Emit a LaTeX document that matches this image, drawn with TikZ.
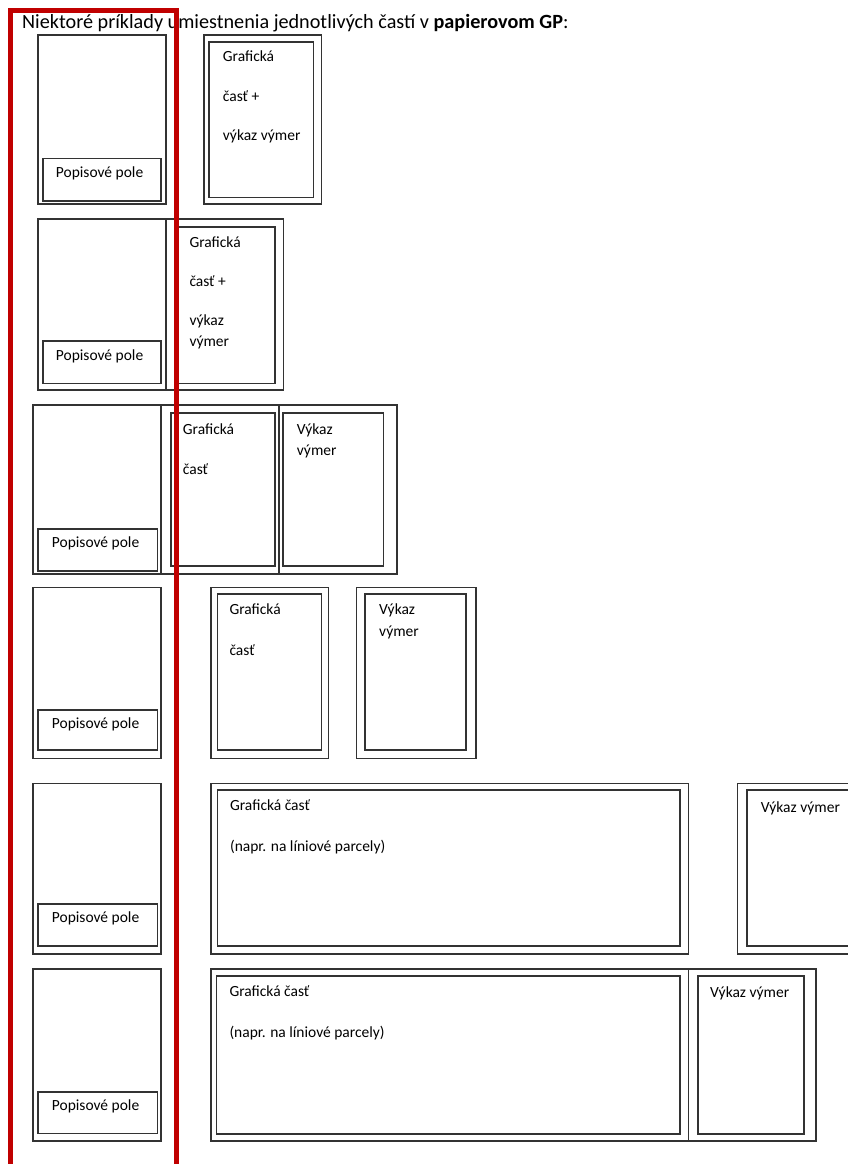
\documentclass[tikz,border=0pt]{standalone}
\usepackage{fontspec}
\setmainfont{Carlito}
\definecolor{boxline}{HTML}{333333}
\definecolor{redframe}{HTML}{C00000}
\tikzset{
  box/.style={draw=boxline, line width=1.7pt, inner sep=0pt, anchor=north west, rectangle},
  lbl/.style={inner sep=0pt, anchor=base west, font=\fontsize{15.5}{18}\selectfont, text=black},
  ttl/.style={inner sep=0pt, anchor=base west, font=\fontsize{20.2}{24}\selectfont, text=black},
  redline/.style={draw=redframe, line width=4.6pt}
}
\newcommand{\bx}[5]{\node[box, minimum width=#4pt-#2pt, minimum height=#5pt-#3pt] (#1) at (#2,#3) {};}
\begin{document}
\begin{tikzpicture}[x=1pt,y=-1pt]
\useasboundingbox (0,0) rectangle (848,1164);
\begin{scope}
\clip (0,0) rectangle (848,1164);
\fill[white] (0,0) rectangle (848,1164);
% title
\node[ttl] (title) at (22,29) {Niektoré príklady umiestnenia jednotlivých častí v \textbf{papierovom GP}:};
% row 1
\bx{r1l}{37.3}{34.3}{165}{203.3}
\bx{r1pp}{42.3}{157.7}{160.3}{200}
\bx{r1go}{203.3}{34.3}{320.7}{203.3}
\bx{r1gi}{208.3}{41}{312.7}{196.7}
\node[lbl] (t1a) at (222.7,61.5) {Grafická};
\node[lbl] (t1b) at (222.7,101) {časť +};
\node[lbl] (t1c) at (222.7,140.7) {výkaz výmer};
\node[lbl] (t1p) at (55.7,177) {Popisové pole};
% row 2
\bx{r2l}{37.3}{218.3}{165}{389.3}
\bx{r2r}{165}{218.3}{282.7}{389.3}
\bx{r2pp}{42.3}{340}{160}{382.7}
\bx{r2gi}{174}{226}{274}{382.7}
\node[lbl] (t2a) at (189.3,247.7) {Grafická};
\node[lbl] (t2b) at (189.3,286.7) {časť +};
\node[lbl] (t2c) at (189.3,325) {výkaz};
\node[lbl] (t2d) at (189.3,346) {výmer};
\node[lbl] (t2p) at (55.7,360) {Popisové pole};
% row 3
\bx{r3l}{32.3}{404.3}{160}{573.3}
\bx{r3m}{160}{404.3}{278.3}{573.3}
\bx{r3r}{278.3}{404.3}{396}{573.3}
\bx{r3pp}{37.3}{528.3}{156.7}{570}
\bx{r3gi}{170}{412.3}{274}{565}
\bx{r3vi}{282.3}{412.3}{382.7}{565}
\node[lbl] (t3a) at (182.7,434) {Grafická};
\node[lbl] (t3b) at (182.7,474) {časť};
\node[lbl] (t3c) at (296.7,434) {Výkaz};
\node[lbl] (t3d) at (296.7,455.7) {výmer};
\node[lbl] (t3p) at (51.7,547.7) {Popisové pole};
% row 4
\bx{r4l}{32.3}{586.7}{160.3}{757.7}
\bx{r4pp}{37.3}{709}{156.7}{749.3}
\bx{r4go}{210}{586.7}{327.7}{757.7}
\bx{r4gi}{216.7}{593.3}{320.7}{749.3}
\bx{r4vo}{355.7}{586.7}{475}{757.7}
\bx{r4vi}{364}{593.3}{465}{749.3}
\node[lbl] (t4a) at (229.3,614.3) {Grafická};
\node[lbl] (t4b) at (229.3,655) {časť};
\node[lbl] (t4c) at (379,614.3) {Výkaz};
\node[lbl] (t4d) at (379,636) {výmer};
\node[lbl] (t4p) at (51.7,728.3) {Popisové pole};
% row 5
\bx{r5l}{32.3}{782.7}{160}{953.3}
\bx{r5pp}{37.3}{903.3}{156.7}{945}
\bx{r5go}{210}{782.7}{687.7}{953.3}
\bx{r5gi}{216.7}{789.3}{679.3}{945}
\bx{r5vo}{736.7}{782.7}{870}{953.3}
\bx{r5vi}{746}{789.3}{860}{945}
\node[lbl] (t5a) at (229.9,810.4) {Grafická časť};
\node[lbl] (t5b) at (229.9,851.7) {(napr. na líniové parcely)};
\node[lbl] (t5c) at (760.7,812.7) {Výkaz výmer};
\node[lbl] (t5p) at (51.7,922.7) {Popisové pole};
% row 6
\bx{r6l}{32.3}{968.3}{160}{1140}
\bx{r6pp}{37.3}{1091}{156.7}{1132.7}
\bx{r6go}{210}{968.3}{687.7}{1140}
\bx{r6vo}{687.7}{968.3}{815.3}{1140}
\bx{r6gi}{215.7}{975}{679.3}{1133.3}
\bx{r6vi}{697.3}{975}{803.3}{1133.3}
\node[lbl] (t6a) at (229.3,996) {Grafická časť};
\node[lbl] (t6b) at (229.3,1037.3) {(napr. na líniové parcely)};
\node[lbl] (t6c) at (710,997.7) {Výkaz výmer};
\node[lbl] (t6p) at (51.7,1110) {Popisové pole};
% red frame
\coordinate (rbl) at (10.3,1175);
\coordinate (rtl) at (10.3,10.3);
\coordinate (rtr) at (176.5,10.3);
\coordinate (rbr) at (176.5,1175);
\draw[redline] (rbl) -- (rtl) -- (rtr) -- (rbr);
\end{scope}
\end{tikzpicture}
\end{document}
